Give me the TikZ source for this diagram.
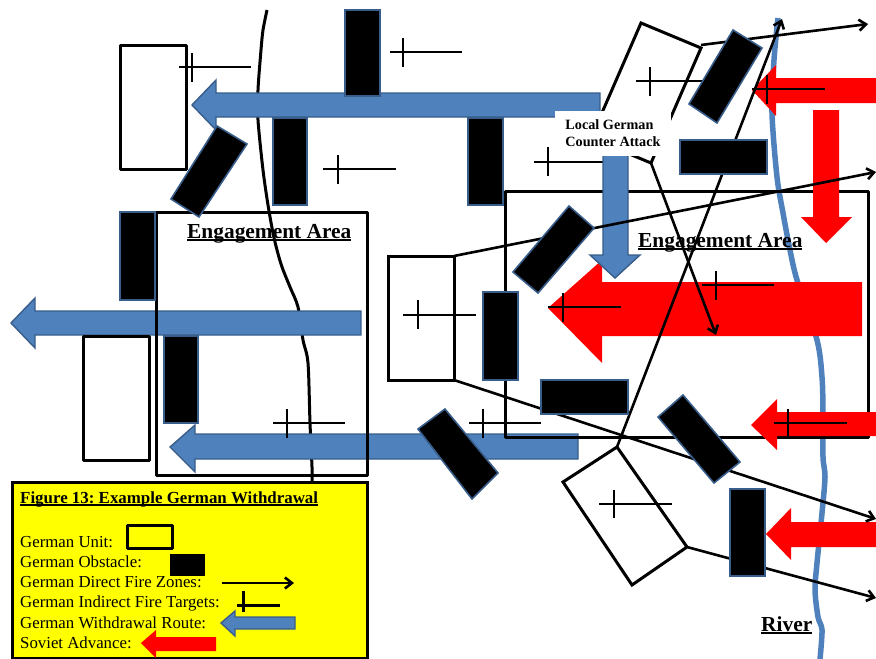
\documentclass[tikz,border=0pt]{standalone}
\usepackage{fontspec}
\setmainfont{Liberation Serif}
\usepackage{tikz}
\usetikzlibrary{arrows.meta}
\definecolor{routeblue}{HTML}{4F81BD}
\definecolor{routeedge}{HTML}{385D8A}
\definecolor{legendyellow}{HTML}{FFFF00}
\newcommand{\labelul}[2][3pt]{\setbox0=\hbox{#2}\leavevmode\rlap{\raisebox{-#1}{\rule{\wd0}{1.7pt}}}\box0}
\tikzset{
  riverline/.style={draw=routeblue,line width=5.5pt},
  roadline/.style={draw=black,line width=3pt},
  arealine/.style={draw=black,line width=3pt,line join=round},
  unitbox/.style={draw=black,line width=3pt,line join=round,fill=white},
  unitopen/.style={draw=black,line width=3pt,line join=miter},
  obstacle/.style={draw=routeedge,line width=1.6pt,fill=black},
  blueroute/.style={draw=routeedge,line width=1.4pt,fill=routeblue},
  redadvance/.style={fill=red},
  fireline/.style={draw=black,line width=2.6pt,-{Straight Barb[length=7pt,width=11pt]}},
  targetline/.style={draw=black,line width=2.6pt},
  arealabel/.style={anchor=base west,inner sep=0pt,font=\fontsize{21.4}{24}\selectfont\bfseries},
  legendtext/.style={anchor=base west,inner sep=0pt,font=\fontsize{16.8}{20}\selectfont}
}
\begin{document}
\begin{tikzpicture}[x=1pt,y=-1pt]
  \useasboundingbox (0,0) rectangle (876,659);

  % river and road
  \draw [riverline] plot [smooth,tension=0.5] coordinates {(778,18) (774,60) (772,113) (777,177) (783,213) (790,250) (797,280) (817,340) (822,377) (823,413) (823,457) (825,477) (822,513) (817,563) (815,590) (818,617) (822,630) (820,659)};
  \draw [roadline] plot [smooth,tension=0.5] coordinates {(267,10) (263,30) (261,50) (258,90) (258,120) (263,170) (268,205) (273,233) (277,250) (282,267) (290,287) (298,307) (303,340) (308,363) (310,423) (312,467) (312,485)};

  % withdrawal routes
  \draw [blueroute] (192,105) -- (216,80) -- (216,93) -- (600,93) -- (600,117) -- (216,117) -- (216,130) -- cycle;
  \draw [blueroute] (11,323) -- (35,298) -- (35,311) -- (361,311) -- (361,335) -- (35,335) -- (35,348) -- cycle;
  \draw [blueroute] (170,447) -- (195,425) -- (195,434) -- (578,434) -- (578,459) -- (195,459) -- (195,472) -- cycle;

  % engagement areas
  \draw [arealine] (156,212) rectangle (367,475);
  \draw [arealine] (505,191) rectangle (868,437);

  % soviet advance
  \fill [redadvance] (752,90) -- (776,65) -- (776,78) -- (876,78) -- (876,103) -- (776,103) -- (776,116) -- cycle;
  \fill [redadvance] (813,110) -- (839,110) -- (839,217) -- (852,217) -- (826,243) -- (801,217) -- (813,217) -- cycle;
  \fill [redadvance] (548,308) -- (602,260) -- (602,282) -- (862,282) -- (862,336) -- (602,336) -- (602,363) -- cycle;
  \fill [redadvance] (751,425) -- (777,399) -- (777,412) -- (876,412) -- (876,436) -- (777,436) -- (777,450) -- cycle;
  \fill [redadvance] (766,534) -- (791,508) -- (791,522) -- (876,522) -- (876,547) -- (791,547) -- (791,560) -- cycle;

  % counter attack route
  \draw [targetline] (534,162) -- (606,162);
  \draw [targetline] (548,147) -- (548,176);
  \draw [blueroute] (603,117) -- (628,117) -- (628,255) -- (640,255) -- (615,278) -- (590,255) -- (603,255) -- cycle;

  % german units
  \draw [unitbox] (120,45) rectangle (186,169);
  \draw [unitbox] (83,336) rectangle (149,460);
  \draw [unitopen] (388,256) rectangle (454,380);
  \draw [unitopen] (591,138) -- (641,23) -- (701,48) -- (651,163) -- cycle;
  \draw [unitopen] (617,447) -- (563,482) -- (632,585) -- (687,547) -- cycle;

  % direct fire
  \coordinate (unitTopCornerA) at (701,45);
  \coordinate (unitTopCornerB) at (651,163);
  \coordinate (unitMidCornerA) at (454,256);
  \coordinate (unitMidCornerB) at (454,380);
  \coordinate (unitLowCornerA) at (617,447);
  \coordinate (unitLowCornerB) at (687,547);
  \coordinate (fireEndA) at (868,24);
  \coordinate (fireEndB) at (716,335);
  \coordinate (fireEndC) at (876,172);
  \coordinate (fireEndD) at (876,519);
  \coordinate (fireEndE) at (782,19);
  \coordinate (fireEndF) at (876,598);
  \draw [fireline] (unitTopCornerA) -- (fireEndA);
  \draw [fireline] (unitTopCornerB) -- (fireEndB);
  \draw [fireline] (unitMidCornerA) -- (fireEndC);
  \draw [fireline] (unitMidCornerB) -- (fireEndD);
  \draw [fireline] (unitLowCornerA) -- (fireEndE);
  \draw [fireline] (unitLowCornerB) -- (fireEndF);

  % indirect fire targets
  \draw [targetline] (179,67) -- (251,67);
  \draw [targetline] (192,53) -- (192,82);
  \draw [targetline] (390,52) -- (462,52);
  \draw [targetline] (403,38) -- (403,67);
  \draw [targetline] (323,169) -- (396,169);
  \draw [targetline] (338,155) -- (338,184);
  \draw [targetline] (636,81) -- (708,81);
  \draw [targetline] (650,67) -- (650,96);
  \draw [targetline] (752,89) -- (825,89);
  \draw [targetline] (767,75) -- (767,104);
  \draw [targetline] (702,285) -- (774,285);
  \draw [targetline] (716,271) -- (716,300);
  \draw [targetline] (548,307) -- (621,307);
  \draw [targetline] (563,293) -- (563,322);
  \draw [targetline] (403,315) -- (476,315);
  \draw [targetline] (418,300) -- (418,329);
  \draw [targetline] (469,423) -- (541,423);
  \draw [targetline] (483,409) -- (483,438);
  \draw [targetline] (774,423) -- (847,423);
  \draw [targetline] (788,409) -- (788,438);
  \draw [targetline] (273,423) -- (345,423);
  \draw [targetline] (287,409) -- (287,438);
  \draw [targetline] (599,504) -- (672,504);
  \draw [targetline] (614,490) -- (614,518);

  % obstacles
  \draw [obstacle] (345,10) rectangle (380,96);
  \draw [obstacle] (273,118) rectangle (307,205);
  \draw [obstacle] (468,118) rectangle (503,205);
  \draw [obstacle] (120,212) rectangle (155,300);
  \draw [obstacle] (164,336) rectangle (198,423);
  \draw [obstacle] (483,292) rectangle (518,380);
  \draw [obstacle] (541,380) rectangle (628,414);
  \draw [obstacle] (680,140) rectangle (767,174);
  \draw [obstacle] (730,489) rectangle (765,576);
  \draw [obstacle] (217,126) -- (247,144) -- (199,217) -- (171,199) -- cycle;
  \draw [obstacle] (733,30) -- (762,48) -- (717,123) -- (689,104) -- cycle;
  \draw [obstacle] (569,206) -- (594,228) -- (538,293) -- (513,272) -- cycle;
  \draw [obstacle] (445,409) -- (498,473) -- (472,499) -- (418,429) -- cycle;
  \draw [obstacle] (683,395) -- (740,462) -- (714,483) -- (658,417) -- cycle;

  % labels
  \node (counterLabel) at (613,133.5) [fill=white,inner sep=0pt,minimum width=116pt,minimum height=45pt,align=left,font=\fontsize{14.2}{17}\selectfont\bfseries] {Local German\\Counter Attack};
  \node (areaLeft) at (187,238) [arealabel] {\labelul{Engagement Area}};
  \node (areaRight) at (638,247) [arealabel] {\labelul{Engagement Area}};
  \node (riverLabel) at (761,631) [arealabel] {\labelul{River}};

  % legend
  \draw [draw=black,line width=3pt,fill=legendyellow] (12,482) rectangle (367,658);
  \node (legendTitle) at (20,503) [anchor=base west,inner sep=0pt,font=\fontsize{16.9}{20}\selectfont\bfseries] {\frenchspacing\labelul[2.5pt]{Figure 13: Example German Withdrawal}};
  \node (legendUnit) at (20,547) [legendtext] {German Unit:};
  \node (legendObstacle) at (20,567) [legendtext] {German Obstacle:};
  \node (legendDirect) at (20,587) [legendtext] {German Direct Fire Zones:};
  \node (legendIndirect) at (20,607) [legendtext] {German Indirect Fire Targets:};
  \node (legendRoute) at (20,628) [legendtext] {German Withdrawal Route:};
  \node (legendAdvance) at (20,648) [legendtext] {Soviet Advance:};
  \draw [unitopen,line join=round] (127,525) rectangle (172,548);
  \draw [draw=black,fill=black,line join=round] (170,554) rectangle (204,575);
  \coordinate (legendFireStart) at (222,583);
  \coordinate (legendFireEnd) at (294,583);
  \draw [fireline] (legendFireStart) -- (legendFireEnd);
  \draw [targetline] (237,605.5) -- (280,605.5);
  \draw [targetline] (243.5,591) -- (243.5,612);
  \draw [blueroute] (221,623) -- (235,611) -- (235,617) -- (295,617) -- (295,629) -- (235,629) -- (235,636) -- cycle;
  \fill [redadvance] (141,643) -- (156,630) -- (156,637) -- (216,637) -- (216,651) -- (156,651) -- (156,658) -- cycle;
\end{tikzpicture}
\end{document}
